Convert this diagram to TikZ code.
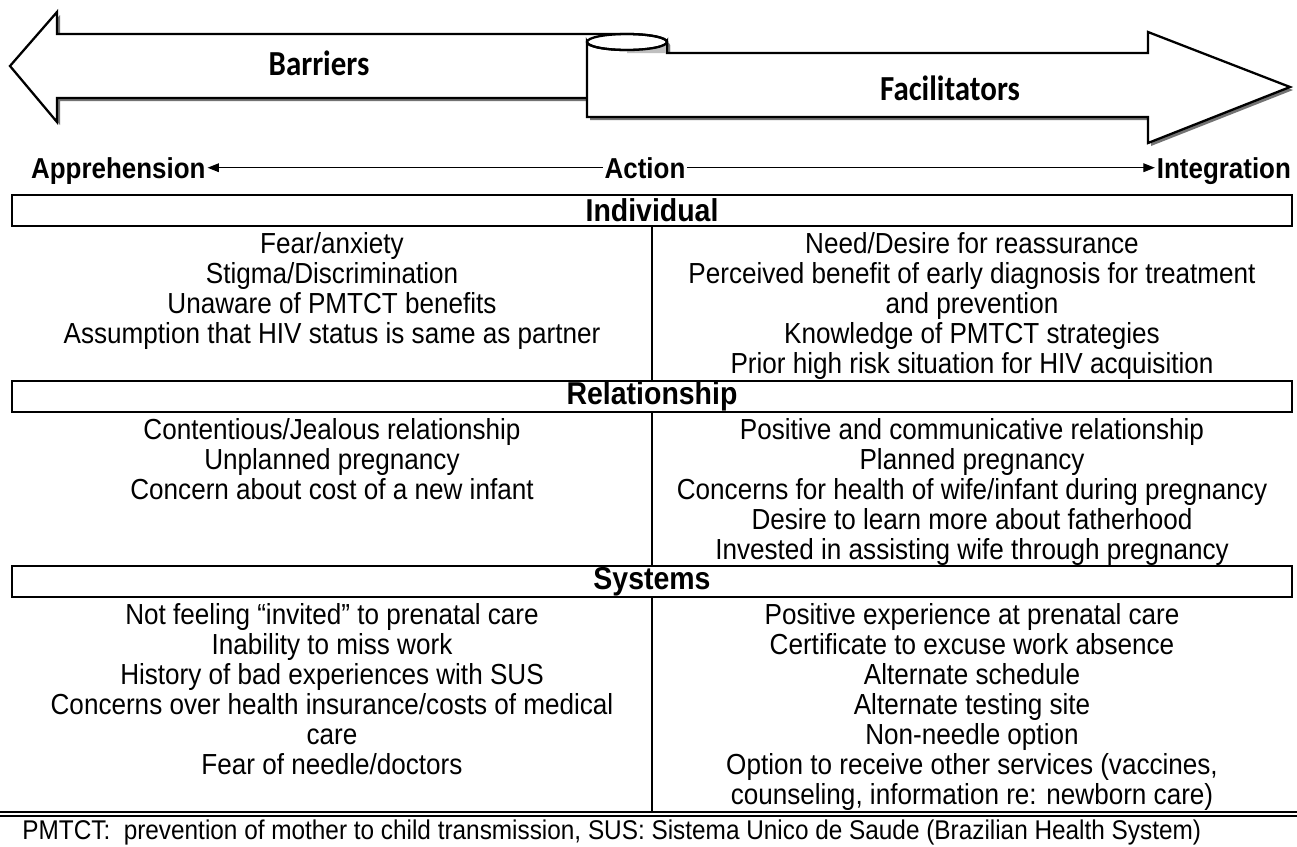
\documentclass[tikz,border=0pt]{standalone}
\usepackage{fontspec}
\setmainfont{Liberation Sans}
\newfontfamily\tallfont[FakeStretch=0.9]{Liberation Sans}
\newfontfamily\ribbonfont[FakeStretch=0.88]{Carlito}
\usetikzlibrary{arrows.meta}

\begin{document}
\begin{tikzpicture}[x=0.02cm,y=0.02cm,>={Triangle[length=6.5pt,width=5pt]},
	ribbon/.style={draw=black,line width=1.3pt,fill=white,line join=miter},
	shadow/.style={fill=black!55,shift={(3,-3)}},
	ribbontext/.style={font=\ribbonfont\bfseries\fontsize{20}{22}\selectfont},
	axis/.style={font=\tallfont\bfseries\fontsize{16.4}{18}\selectfont,inner sep=1pt},
	head/.style={draw,line width=0.8pt,minimum width=25.6cm,minimum height=0.62cm,inner sep=0pt,
		font=\tallfont\bfseries\fontsize{18}{20}\selectfont},
	cell/.style={anchor=north,align=center,inner sep=0pt,font=\tallfont\fontsize{16.5}{17.07}\selectfont},
	rule/.style={line width=0.6pt}]
\useasboundingbox (0,0) rectangle (1297,-846);
\def\r{40}
\def\h{8}
\def\barrier{(10,-66) -- (57,-12) -- (57,-34) -- (627,-34)
	arc[start angle=90,end angle=0,x radius=\r,y radius=\h]
	-- (667,-98) -- (57,-98) -- (57,-122) -- cycle}
\def\facil{(587,-42) -- (587,-117) -- (1148,-117) -- (1148,-143) -- (1290,-87)
	-- (1148,-32) -- (1148,-53) -- (667,-53) -- (667,-42)
	arc[start angle=0,end angle=-180,x radius=\r,y radius=\h] -- cycle}

% the two ribbons
\fill[shadow] \barrier;
\draw[ribbon] \barrier;
\fill[shadow] \facil;
\draw[ribbon] \facil;
\fill[color=black!25] (627,-50) arc[start angle=-90,end angle=0,x radius=\r,y radius=\h]
	-- (667,-53) -- (627,-53) -- cycle;
\draw[line width=1.3pt] (627,-42) ellipse[x radius=\r,y radius=\h];
\draw[line width=1.3pt] (667,-42) -- (667,-53) -- (700,-53);
\node[ribbontext] (bar) at (319,-63) {Barriers};
\node[ribbontext] (fac) at (950,-88) {Facilitators};

% continuum
\node[axis,anchor=base west] (appr) at (29,-178) {Apprehension};
\node[axis,anchor=base] (act) at (645,-178) {Action};
\node[axis,anchor=base east] (integ) at (1293,-178) {Integration};
\draw[rule,->] (act.west) -- (appr.east |- act.west);
\draw[rule,->] (act.east) -- (integ.west |- act.east);

% table
\node[head] (indiv) at (652,-210.5) {Individual};
\node[head] (relat) at (652,-396.5) {Relationship};
\node[head] (sys) at (652,-581.5) {Systems};
\coordinate (base) at (652,-812);
\draw[rule] (indiv.south) -- (relat.north);
\draw[rule] (relat.south) -- (sys.north);
\draw[rule] (sys.south) -- (base);
\draw[line width=0.8pt] (0,-812) -- (1297,-812);
\draw[rule] (0,-816) -- (1297,-816);

\node[cell] (indl) at (332,-232) {Fear/anxiety\\Stigma/Discrimination\\Unaware of PMTCT benefits\\
	Assumption that HIV status is same as partner};
\node[cell] (indr) at (972,-232) {Need/Desire for reassurance\\
	Perceived benefit of early diagnosis for treatment\\and prevention\\
	Knowledge of PMTCT strategies\\Prior high risk situation for HIV acquisition};
\node[cell] (rell) at (332,-418) {Contentious/Jealous relationship\\Unplanned pregnancy\\
	Concern about cost of a new infant};
\node[cell] (relr) at (972,-418) {Positive and communicative relationship\\Planned pregnancy\\
	Concerns for health of wife/infant during pregnancy\\
	Desire to learn more about fatherhood\\Invested in assisting wife through pregnancy};
\node[cell] (sysl) at (332,-603) {Not feeling “invited” to prenatal care\\Inability to miss work\\
	History of bad experiences with SUS\\Concerns over health insurance/costs of medical\\care\\
	Fear of needle/doctors};
\node[cell] (sysr) at (972,-603) {Positive experience at prenatal care\\
	Certificate to excuse work absence\\Alternate schedule\\Alternate testing site\\
	Non-needle option\\Option to receive other services (vaccines,\\
	counseling, information re: newborn care)};

\node[anchor=base west,inner sep=0pt,font=\tallfont\fontsize{15.4}{17}\selectfont] (note) at (22,-839)
	{PMTCT:\ \ prevention of mother to child transmission, SUS: Sistema Unico de Saude (Brazilian Health System)};
\end{tikzpicture}
\end{document}
